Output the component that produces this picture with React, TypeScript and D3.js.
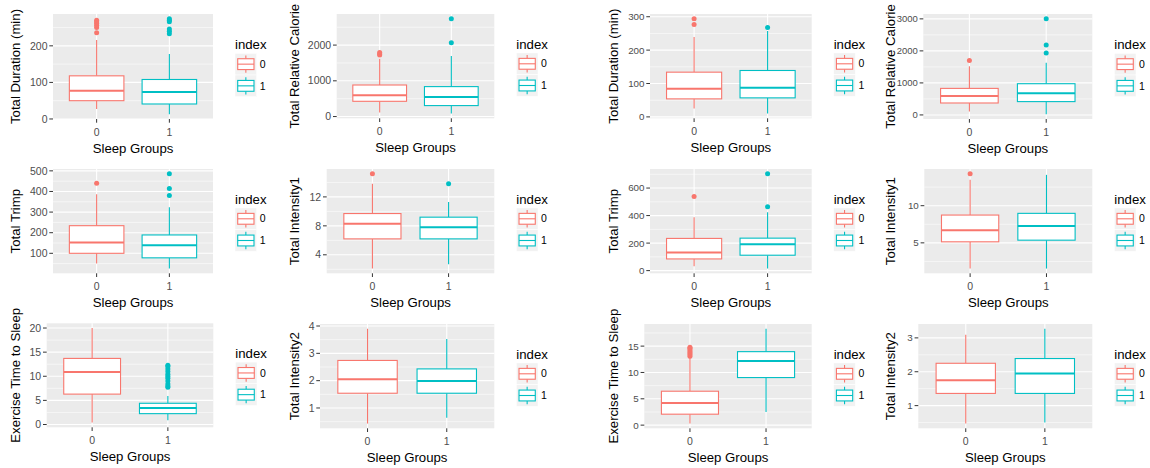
import React from "react";
import * as d3 from "d3";

type Box = { lo: number; q1: number; med: number; q3: number; hi: number; out: number[] };

const groups = ["0", "1"];
const groupColors = ["#F8766D", "#00BFC4"];

// left set of plots
const durationL: Box[] = [
  { lo: 27, q1: 50, med: 77, q3: 118, hi: 216, out: [236, 250, 256, 262, 266, 270] },
  { lo: 13, q1: 41, med: 74, q3: 108, hi: 178, out: [233, 240, 246, 266, 270, 274] },
];
const calorieL: Box[] = [
  { lo: 112, q1: 427, med: 595, q3: 883, hi: 1620, out: [1720, 1750, 1790] },
  { lo: 84, q1: 307, med: 547, q3: 838, hi: 1693, out: [2067, 2737] },
];
const trimpL: Box[] = [
  { lo: 50, q1: 100, med: 152, q3: 234, hi: 387, out: [440] },
  { lo: 26, q1: 78, med: 139, q3: 189, hi: 324, out: [380, 414, 486] },
];
const intensity1L: Box[] = [
  { lo: 2.1, q1: 6.2, med: 8.3, q3: 9.7, hi: 13.8, out: [15.2] },
  { lo: 2.7, q1: 6.2, med: 7.8, q3: 9.2, hi: 11.3, out: [13.8] },
];
const sleepGapL: Box[] = [
  { lo: 0.4, q1: 6.3, med: 10.9, q3: 13.7, hi: 20, out: [] },
  { lo: 0.9, q1: 2.25, med: 3.4, q3: 4.4, hi: 5.9, out: [7.7, 8, 8.4, 9, 9.6, 10, 10.4, 11, 11.5, 12, 12.3] },
];
const intensity2L: Box[] = [
  { lo: 0.43, q1: 1.54, med: 2.05, q3: 2.74, hi: 3.9, out: [] },
  { lo: 0.64, q1: 1.54, med: 1.99, q3: 2.43, hi: 3.52, out: [] },
];

// right set of plots
const durationR: Box[] = [
  { lo: 25, q1: 54, med: 84, q3: 134, hi: 239, out: [277, 294] },
  { lo: 10, q1: 57, med: 87, q3: 139, hi: 257, out: [268] },
];
const calorieR: Box[] = [
  { lo: 106, q1: 373, med: 590, q3: 829, hi: 1522, out: [1699] },
  { lo: 22, q1: 416, med: 674, q3: 975, hi: 1627, out: [1938, 2186, 3003] },
];
const trimpR: Box[] = [
  { lo: 31, q1: 85, med: 132, q3: 234, hi: 388, out: [538] },
  { lo: 15, q1: 112, med: 192, q3: 236, hi: 424, out: [465, 704] },
];
const intensity1R: Box[] = [
  { lo: 1.54, q1: 5.14, med: 6.7, q3: 8.74, hi: 13.5, out: [14.3] },
  { lo: 1.54, q1: 5.36, med: 7.26, q3: 8.97, hi: 14.15, out: [] },
];
const sleepGapR: Box[] = [
  { lo: 0.3, q1: 2.08, med: 4.2, q3: 6.44, hi: 12.8, out: [13.1, 13.4, 13.7, 14.0, 14.3, 14.6, 14.8] },
  { lo: 2.5, q1: 9.03, med: 12.18, q3: 13.95, hi: 18.3, out: [] },
];
const intensity2R: Box[] = [
  { lo: 0.47, q1: 1.36, med: 1.75, q3: 2.25, hi: 3.09, out: [] },
  { lo: 0.5, q1: 1.36, med: 1.95, q3: 2.39, hi: 3.27, out: [] },
];

const ticksDurationL = [0, 100, 200];
const ticksCalorieL = [0, 1000, 2000];
const ticksTrimpL = [100, 200, 300, 400, 500];
const ticksIntensity1L = [4, 8, 12];
const ticksSleepGapL = [0, 5, 10, 15, 20];
const ticksIntensity2L = [1, 2, 3, 4];
const ticksDurationR = [0, 100, 200, 300];
const ticksCalorieR = [0, 1000, 2000, 3000];
const ticksTrimpR = [0, 200, 400, 600];
const ticksIntensity1R = [5, 10];
const ticksSleepGapR = [0, 5, 10, 15];
const ticksIntensity2R = [1, 2, 3];

const xTitle = "Sleep Groups";
const legendTitle = "index";

// layout: panel rect [x0, x1, y0, y1], y-title x position, tick font size
const panels = [
  { label: "Total Duration (min)", data: durationL, ticks: ticksDurationL, rect: [53, 213, 14, 119], tx: 15, fs: 10.5 },
  { label: "Total Relative Calorie", data: calorieL, ticks: ticksCalorieL, rect: [336.7, 494.3, 14, 118.3], tx: 294, fs: 10.5 },
  { label: "Total Trimp", data: trimpL, ticks: ticksTrimpL, rect: [53, 213, 169, 273.3], tx: 15, fs: 10.5 },
  { label: "Total Intensity1", data: intensity1L, ticks: ticksIntensity1L, rect: [326.7, 494.3, 169, 273.3], tx: 294, fs: 10.5 },
  { label: "Exercise Time to Sleep", data: sleepGapL, ticks: ticksSleepGapL, rect: [46.7, 213.3, 323.3, 427.3], tx: 15, fs: 10.5 },
  { label: "Total Intensity2", data: intensity2L, ticks: ticksIntensity2L, rect: [320, 494.3, 324, 428.3], tx: 294, fs: 10.5 },
  { label: "Total Duration (min)", data: durationR, ticks: ticksDurationR, rect: [650, 811.7, 14, 118.3], tx: 613, fs: 9.8 },
  { label: "Total Relative Calorie", data: calorieR, ticks: ticksCalorieR, rect: [923.3, 1092.3, 14, 119], tx: 890, fs: 9.5 },
  { label: "Total Trimp", data: trimpR, ticks: ticksTrimpR, rect: [650, 811.7, 169, 273.3], tx: 613, fs: 9.8 },
  { label: "Total Intensity1", data: intensity1R, ticks: ticksIntensity1R, rect: [924.3, 1092.3, 169, 273.3], tx: 890, fs: 9.8 },
  { label: "Exercise Time to Sleep", data: sleepGapR, ticks: ticksSleepGapR, rect: [644.3, 811.7, 324, 428.3], tx: 613, fs: 9.8 },
  { label: "Total Intensity2", data: intensity2R, ticks: ticksIntensity2R, rect: [918.3, 1092.3, 324, 428.3], tx: 890, fs: 9.8 },
];

const font = "'Liberation Sans', Arial, sans-serif";
const panelBg = "#EBEBEB";

function BoxPanel({ label, data, ticks, rect, tx, fs }: any) {
  const [x0, x1, y0, y1] = rect;
  const vals = data.flatMap((d: Box) => [d.lo, d.hi, ...d.out]);
  const [mn, mx] = d3.extent(vals) as [number, number];
  const pad = (mx - mn) * 0.05;
  const y = d3.scaleLinear().domain([mn - pad, mx + pad]).range([y1, y0]);
  const x = d3.scalePoint<string>().domain(groups).range([x0, x1]).padding(0.6);
  const bw = x.step() * 0.75;

  const step = ticks[1] - ticks[0];
  const minors = [ticks[0] - step / 2, ...ticks.map((t: number) => t + step / 2)].filter(
    (v) => v > y.domain()[0] && v < y.domain()[1]
  );

  const cy = (y0 + y1) / 2;
  const lx = x1 + 22;
  const key = 21.7;
  const keyTop = cy - 13.2;

  return (
    <g>
      <rect x={x0} y={y0} width={x1 - x0} height={y1 - y0} fill={panelBg} />
      {minors.map((v: number) => (
        <line key={"mn" + v} x1={x0} x2={x1} y1={y(v)} y2={y(v)} stroke="#fff" strokeWidth={0.55} />
      ))}
      {ticks.map((v: number) => (
        <line key={"mj" + v} x1={x0} x2={x1} y1={y(v)} y2={y(v)} stroke="#fff" strokeWidth={1.1} />
      ))}
      {groups.map((g) => (
        <line key={"vx" + g} x1={x(g)} x2={x(g)} y1={y0} y2={y1} stroke="#fff" strokeWidth={1.1} />
      ))}

      {data.map((d: Box, i: number) => {
        const cx = x(groups[i]) as number;
        const c = groupColors[i];
        return (
          <g key={"b" + i}>
            <line x1={cx} x2={cx} y1={y(d.q3)} y2={y(d.hi)} stroke={c} strokeWidth={1.1} />
            <line x1={cx} x2={cx} y1={y(d.q1)} y2={y(d.lo)} stroke={c} strokeWidth={1.1} />
            <rect
              x={cx - bw / 2}
              y={y(d.q3)}
              width={bw}
              height={y(d.q1) - y(d.q3)}
              fill="#fff"
              stroke={c}
              strokeWidth={1.1}
            />
            <line x1={cx - bw / 2} x2={cx + bw / 2} y1={y(d.med)} y2={y(d.med)} stroke={c} strokeWidth={2} />
            {d.out.map((o, j) => (
              <circle key={j} cx={cx} cy={y(o)} r={2.5} fill={c} />
            ))}
          </g>
        );
      })}

      {/* y axis */}
      {ticks.map((v: number) => (
        <g key={"yt" + v}>
          <line x1={x0 - 3.7} x2={x0} y1={y(v)} y2={y(v)} stroke="#333" strokeWidth={1} />
          <text x={x0 - 5.5} y={y(v)} dy="0.35em" textAnchor="end" fontSize={fs} fill="#4D4D4D">
            {v}
          </text>
        </g>
      ))}
      {/* x axis */}
      {groups.map((g) => (
        <g key={"xt" + g}>
          <line x1={x(g)} x2={x(g)} y1={y1} y2={y1 + 3.7} stroke="#333" strokeWidth={1} />
          <text x={x(g)} y={y1 + 16.5} textAnchor="middle" fontSize={10.5} fill="#4D4D4D">
            {g}
          </text>
        </g>
      ))}
      <text x={(x0 + x1) / 2} y={y1 + 34} textAnchor="middle" fontSize={13.2} fill="#000">
        {xTitle}
      </text>
      <text
        transform={`translate(${tx},${cy}) rotate(-90)`}
        dy="0.35em"
        textAnchor="middle"
        fontSize={13.2}
        fill="#000"
      >
        {label}
      </text>

      {/* legend */}
      <text x={lx} y={keyTop - 4} fontSize={13.2} fill="#000">
        {legendTitle}
      </text>
      {groups.map((g, i) => {
        const ky = keyTop + i * key;
        const c = groupColors[i];
        const kx = lx + key / 2;
        return (
          <g key={"lg" + g}>
            <rect x={lx} y={ky} width={key} height={key} fill="#F2F2F2" stroke="#fff" strokeWidth={0.5} />
            <line x1={kx} x2={kx} y1={ky + key * 0.1} y2={ky + key * 0.25} stroke={c} strokeWidth={1.1} />
            <line x1={kx} x2={kx} y1={ky + key * 0.75} y2={ky + key * 0.9} stroke={c} strokeWidth={1.1} />
            <rect
              x={lx + key * 0.125}
              y={ky + key * 0.25}
              width={key * 0.75}
              height={key * 0.5}
              fill="#fff"
              stroke={c}
              strokeWidth={1.1}
            />
            <line
              x1={lx + key * 0.125}
              x2={lx + key * 0.875}
              y1={ky + key / 2}
              y2={ky + key / 2}
              stroke={c}
              strokeWidth={1.1}
            />
            <text x={lx + key + 3} y={ky + key / 2} dy="0.35em" fontSize={10.5} fill="#000">
              {g}
            </text>
          </g>
        );
      })}
    </g>
  );
}

export default function App() {
  return (
    <svg
      width={1150}
      height={468}
      style={{ position: "absolute", left: 0, top: 0, background: "#fff", fontFamily: font }}
    >
      <rect width={1150} height={468} fill="#fff" />
      {panels.map((p, i) => (
        <BoxPanel key={i} {...p} />
      ))}
    </svg>
  );
}
